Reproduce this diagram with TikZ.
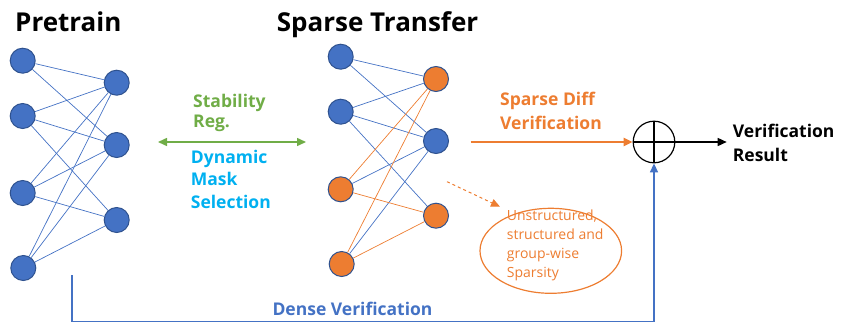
\documentclass[tikz,border=0pt]{standalone}
\usepackage{fontspec}
\setmainfont{Open Sans}
\usetikzlibrary{arrows.meta,shapes.geometric}
\definecolor{nblue}{HTML}{4472C4}
\definecolor{nborder}{HTML}{2F528F}
\definecolor{norange}{HTML}{ED7D31}
\definecolor{ngreen}{HTML}{70AD47}
\definecolor{ncyan}{HTML}{00B0F0}
\begin{document}
\begin{tikzpicture}[x=1pt,y=-1pt,
  neuron/.style={circle, draw=nborder, line width=1pt, minimum size=25pt, inner sep=0pt},
  bn/.style={neuron, fill=nblue},
  on/.style={neuron, fill=norange},
  be/.style={draw=nblue, line width=0.7pt},
  oe/.style={draw=norange, line width=0.7pt},
  title/.style={anchor=base west, inner sep=0pt, font=\bfseries\fontsize{26}{30}\selectfont},
  lbl/.style={anchor=west, align=left, inner sep=0pt, font=\bfseries\fontsize{18}{21}\selectfont},
  tip/.style={-{Triangle[length=9pt,width=8pt]}}
]
\useasboundingbox (0,0) rectangle (841,322);

% titles
\node[title] (t1) at (15,31.7) {Pretrain};
\node[title] (t2) at (276.7,31.7) {Sparse Transfer};

% pretrain network
\node[bn] (a1) at (22.7,60.7) {};
\node[bn] (a2) at (22.7,116) {};
\node[bn] (a3) at (22.7,193) {};
\node[bn] (a4) at (23.3,268) {};
\node[bn] (b1) at (116.7,82.7) {};
\node[bn] (b2) at (116.7,145) {};
\node[bn] (b3) at (116.7,220) {};
\foreach \s/\t in {a1/b1,a1/b2,a2/b1,a2/b2,a2/b3,a3/b1,a3/b2,a3/b3,a4/b1,a4/b2,a4/b3}
  \draw[be] (\s) -- (\t);

% sparse transfer network
\node[bn] (c1) at (340.7,56.7) {};
\node[bn] (c2) at (340.7,111.7) {};
\node[on] (c3) at (340.7,189.3) {};
\node[on] (c4) at (341.7,264) {};
\node[on] (d1) at (436,79) {};
\node[bn] (d2) at (436,141) {};
\node[on] (d3) at (436,215.7) {};
\foreach \s/\t in {c1/d1,c1/d2,c2/d1,c2/d2,c2/d3,c3/d2,c4/d2}
  \draw[be] (\s) -- (\t);
\foreach \s/\t in {c3/d1,c3/d3,c4/d1,c4/d3}
  \draw[oe] (\s) -- (\t);

% stability arrow
\coordinate (g0) at (158,142);
\coordinate (g1) at (306,142);
\draw[ngreen, line width=1.5pt, {Triangle[length=9pt,width=8pt]}-{Triangle[length=9pt,width=8pt]}] (g0) -- (g1);
\node[lbl, ngreen, font=\bfseries\fontsize{17.5}{20.5}\selectfont] (stab) at (193,113) {Stability\\Reg.};
\node[lbl, ncyan, font=\bfseries\fontsize{17.5}{22.5}\selectfont] (dyn) at (190.7,179.2) {Dynamic\\Mask\\Selection};

% sum
\node[circle, draw=black, line width=1.2pt, minimum size=41.6pt, inner sep=0pt] (sum) at (654,142) {};
\draw[line width=2pt] (sum.north) -- (sum.south);
\draw[line width=2pt] (sum.west) -- (sum.east);

% sparse diff
\coordinate (s0) at (470.7,142);
\draw[norange, line width=2.5pt, tip] (s0) -- (sum.west);
\node[lbl, norange, font=\bfseries\fontsize{17.5}{24}\selectfont] (sd) at (500,111.3) {Sparse Diff\\Verification};

% result
\coordinate (r1) at (726.7,142);
\draw[black, line width=1.5pt, tip] (sum.east) -- (r1);
\node[lbl, black, font=\bfseries\fontsize{17.5}{24}\selectfont] (res) at (732.7,143) {Verification\\Result};

% dashed arrow and ellipse
\coordinate (e0) at (447,181.7);
\coordinate (e1) at (500,206.7);
\draw[norange, line width=1pt, dashed, tip] (e0) -- (e1);
\node[ellipse, draw=norange, line width=1.2pt, minimum width=141.6pt, minimum height=85pt] (ell) at (550.8,250.8) {};
\node[anchor=west, align=left, inner sep=0pt, norange, font=\fontsize{14}{18.9}\selectfont] (etxt) at (506.7,245.4) {Unstructured,\\structured and\\group-wise\\Sparsity};

% dense verification
\coordinate (v0) at (72,275);
\coordinate (v1) at (72,321.5);
\coordinate (v2) at (654,321.5);
\draw[nblue, line width=1.5pt, tip] (v0) -- (v1) -- (v2) -- (sum.south);
\node[inner sep=0pt, nblue, font=\bfseries\fontsize{17.5}{21}\selectfont] (dv) at (352.5,309) {Dense Verification};
\end{tikzpicture}
\end{document}
